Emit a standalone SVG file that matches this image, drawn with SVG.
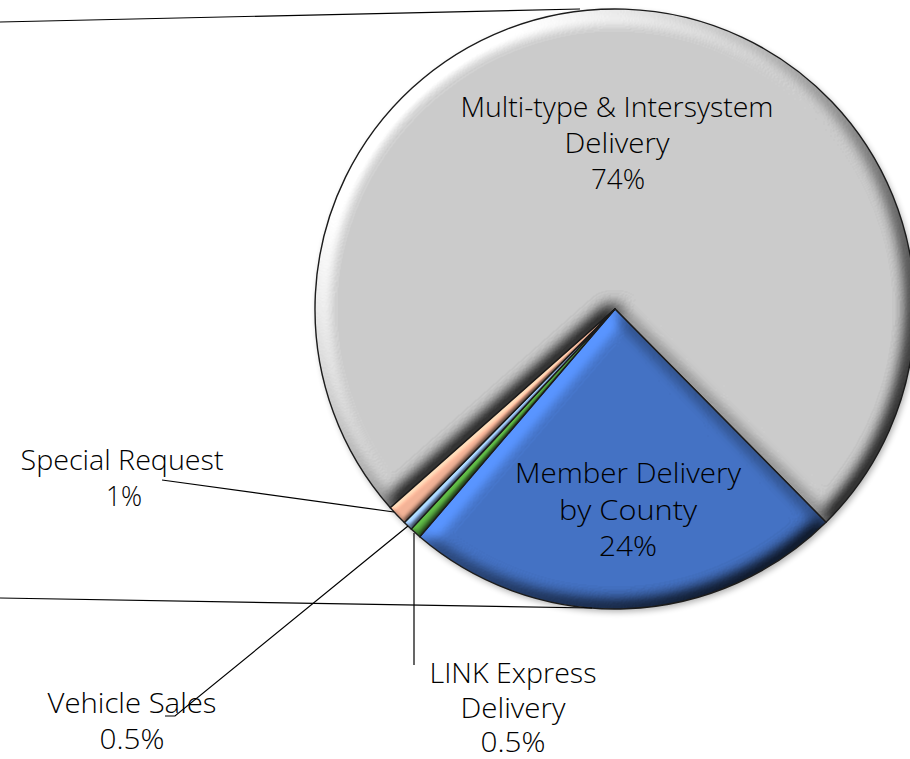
<svg xmlns="http://www.w3.org/2000/svg" width="910" height="759" viewBox="0 0 910 759">
  <style>
    .lbl { font-family: "Open Sans", "Liberation Sans", sans-serif; font-weight: 300; font-size: 27px; fill: #000; text-anchor: middle; }
    .big { stroke: none; filter: url(#bevel); }
    .thin { stroke: none; filter: url(#bevelThin); }
    .edge { fill: none; stroke: #1c1c1c; stroke-width: 1.4; stroke-linejoin: round; }
    .leader { fill: none; stroke: #000; stroke-width: 1.2; }
  </style>
  <defs>
    <filter id="bevel" x="-10%" y="-10%" width="120%" height="120%" color-interpolation-filters="sRGB">
      <feGaussianBlur in="SourceAlpha" stdDeviation="9" result="b"/>
      <feDiffuseLighting in="b" surfaceScale="12" diffuseConstant="1" lighting-color="#ffffff" result="d">
        <feDistantLight azimuth="225" elevation="45"/>
      </feDiffuseLighting>
      <feComposite in="SourceGraphic" in2="d" operator="arithmetic" k1="1.06" k2="0.25" k3="0" k4="0" result="c"/>
      <feComposite in="c" in2="SourceAlpha" operator="in"/>
    </filter>
    <filter id="bevelThin" x="-20%" y="-20%" width="140%" height="140%" color-interpolation-filters="sRGB">
      <feGaussianBlur in="SourceAlpha" stdDeviation="2.5" result="b"/>
      <feDiffuseLighting in="b" surfaceScale="3" diffuseConstant="1" lighting-color="#ffffff" result="d">
        <feDistantLight azimuth="225" elevation="45"/>
      </feDiffuseLighting>
      <feComposite in="SourceGraphic" in2="d" operator="arithmetic" k1="0.849" k2="0.4" k3="0" k4="0" result="c"/>
      <feComposite in="c" in2="SourceAlpha" operator="in"/>
    </filter>
    <filter id="shadow" x="-10%" y="-10%" width="120%" height="120%">
      <feGaussianBlur stdDeviation="3"/>
    </filter>
  </defs>

  <g id="pie-shadow">
    <circle cx="617" cy="312" r="300" fill="#000" opacity="0.3" filter="url(#shadow)"/>
  </g>

  <g id="slice-multitype">
    <path class="big" fill="#cbcbcb" d="M615,309 L390.32,507.78 A300,300 0 1 1 826.01,522.23 Z"/>
    <path class="edge" d="M615,309 L390.32,507.78 A300,300 0 1 1 826.01,522.23 Z"/>
    <text class="lbl"><tspan x="617" y="117" textLength="313" lengthAdjust="spacingAndGlyphs">Multi-type &amp; Intersystem</tspan><tspan x="617" y="153" textLength="105" lengthAdjust="spacingAndGlyphs">Delivery</tspan><tspan x="618" y="189" textLength="54" lengthAdjust="spacingAndGlyphs">74%</tspan></text>
  </g>

  <g id="slice-member">
    <path class="big" fill="#4472c4" d="M615,309 L826.01,522.23 A300,300 0 0 1 419.77,536.77 Z"/>
    <path class="edge" d="M615,309 L826.01,522.23 A300,300 0 0 1 419.77,536.77 Z"/>
    <text class="lbl"><tspan x="628" y="483" textLength="226" lengthAdjust="spacingAndGlyphs">Member Delivery</tspan><tspan x="628" y="520" textLength="138" lengthAdjust="spacingAndGlyphs">by County</tspan><tspan x="628" y="556" textLength="58" lengthAdjust="spacingAndGlyphs">24%</tspan></text>
  </g>

  <g id="slice-link">
    <path class="thin" fill="#4f9a3a" d="M615,309 L419.77,536.77 A300,300 0 0 1 411.17,529.11 Z"/>
    <path class="edge" d="M615,309 L419.77,536.77 A300,300 0 0 1 411.17,529.11 Z"/>
  </g>

  <g id="slice-vehicle">
    <path class="thin" fill="#8fb4e3" d="M615,309 L411.17,529.11 A300,300 0 0 1 404.36,522.60 Z"/>
    <path class="edge" d="M615,309 L411.17,529.11 A300,300 0 0 1 404.36,522.60 Z"/>
  </g>

  <g id="slice-special">
    <path class="thin" fill="#f3b397" d="M615,309 L404.36,522.60 A300,300 0 0 1 390.32,507.78 Z"/>
    <path class="edge" d="M615,309 L404.36,522.60 A300,300 0 0 1 390.32,507.78 Z"/>
  </g>

  <g id="connectors">
    <path class="leader" d="M0,22 L580,9"/>
    <path class="leader" d="M0,598 L592,608"/>
    <path class="leader" d="M162,480 L394,512"/>
    <path class="leader" d="M408,526 L175,716 L165,716"/>
    <path class="leader" d="M414,533 L414,665"/>
  </g>

  <g id="label-special">
    <text class="lbl"><tspan x="122" y="470" textLength="203" lengthAdjust="spacingAndGlyphs">Special Request</tspan><tspan x="124" y="506" textLength="36" lengthAdjust="spacingAndGlyphs">1%</tspan></text>
  </g>
  <g id="label-vehicle">
    <text class="lbl"><tspan x="132" y="713" textLength="169" lengthAdjust="spacingAndGlyphs">Vehicle Sales</tspan><tspan x="132" y="749" textLength="65" lengthAdjust="spacingAndGlyphs">0.5%</tspan></text>
  </g>
  <g id="label-link">
    <text class="lbl"><tspan x="513" y="683" textLength="167" lengthAdjust="spacingAndGlyphs">LINK Express</tspan><tspan x="513" y="718" textLength="105" lengthAdjust="spacingAndGlyphs">Delivery</tspan><tspan x="513" y="752" textLength="65" lengthAdjust="spacingAndGlyphs">0.5%</tspan></text>
  </g>
</svg>
